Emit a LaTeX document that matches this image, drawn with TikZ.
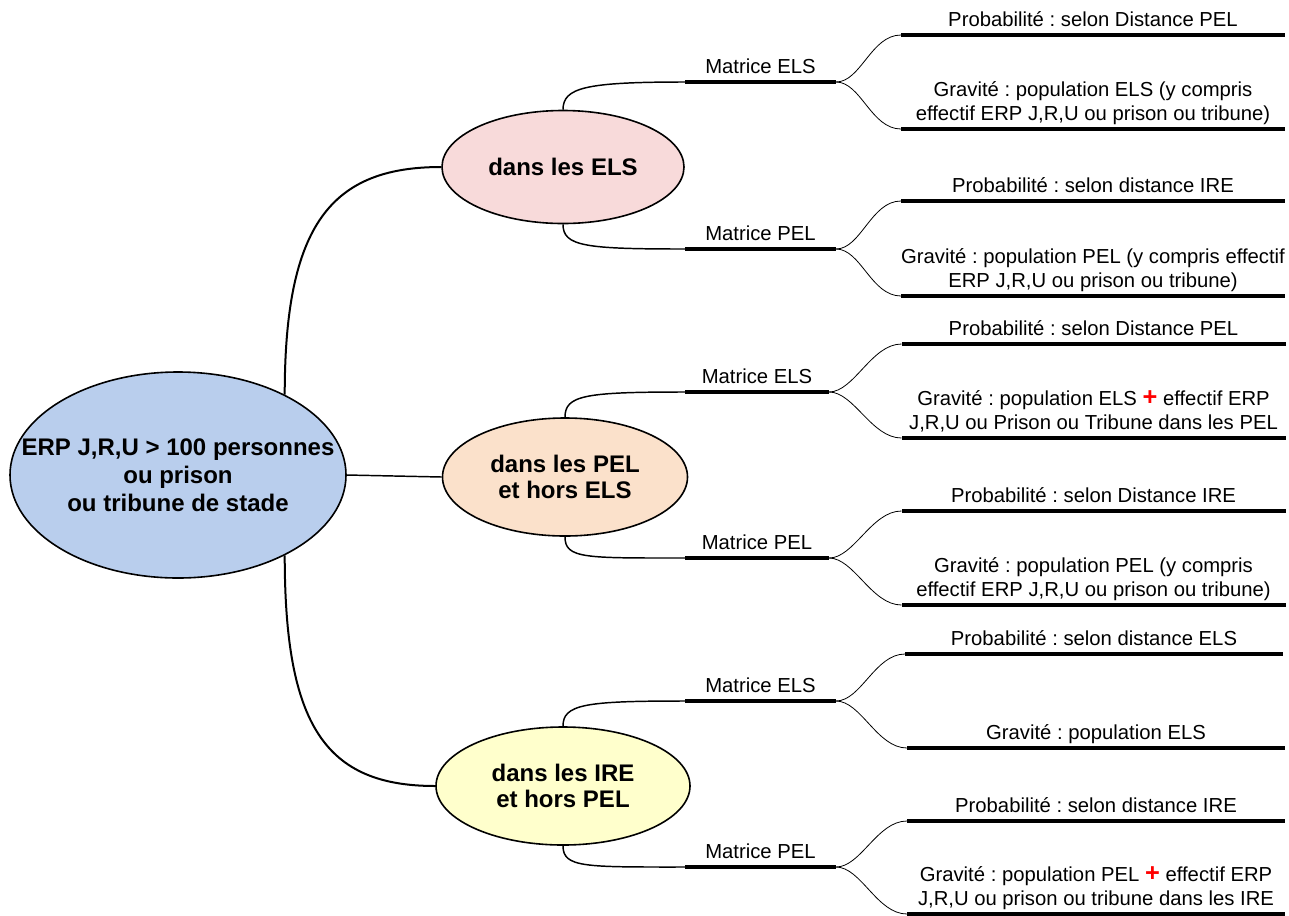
\documentclass[tikz,border=0pt]{standalone}
\usepackage{fontspec}
\setmainfont{Liberation Sans}
\usepackage{tikz}
\usetikzlibrary{shapes.geometric, positioning}
\usepackage{xcolor}
\definecolor{rootblue}{RGB}{185, 206, 237}
\definecolor{elspink}{RGB}{248, 218, 218}
\definecolor{pelpeach}{RGB}{251, 225, 203}
\definecolor{ireyellow}{RGB}{255, 255, 204}
\newcommand{\rplus}{\textcolor{red}{\fontsize{19}{18}\selectfont\textbf{+}}}
\frenchspacing

\begin{document}
\begin{tikzpicture}[
  x=0.75pt, y=-0.75pt,
  zone/.style={ellipse, draw=black, line width=1.2pt, align=center, inner sep=0pt, font=\fontsize{18}{20}\selectfont\bfseries},
  zonetxt/.style={align=center, inner sep=0pt, font=\fontsize{18}{21}\selectfont\bfseries},
  mbar/.style={rectangle, fill=black, inner sep=0pt, outer sep=0pt, minimum height=3.2pt, minimum width=113.25pt},
  lbar/.style={rectangle, fill=black, inner sep=0pt, outer sep=0pt, minimum height=3.2pt, minimum width=288pt},
  lbl/.style={inner xsep=0pt, inner ysep=1.5pt, text depth=3pt, align=center, font=\fontsize{15.2}{18}\selectfont},
  trunk/.style={line width=1.5pt},
  stem/.style={line width=1.1pt},
  twig/.style={line width=0.6pt}
]
\clip (0,0) rectangle (1289,915);

% root and zones
\node[zone, fill=rootblue, minimum width=252pt, minimum height=154.5pt] (erp) at (178,475) {};
\node[zonetxt] (erptxt) at (erp.center) {ERP J,R,U > 100 personnes\\ou prison\\ou tribune de stade};

\node[zone, fill=elspink, minimum width=181.5pt, minimum height=84.75pt] (els) at (563,167) {dans les ELS};
\node[zone, fill=pelpeach, minimum width=183.75pt, minimum height=88.5pt] (pel) at (565,477) {dans les PEL\\et hors ELS};
\node[zone, fill=ireyellow, minimum width=190.5pt, minimum height=88.5pt] (ire) at (563,786) {dans les IRE\\et hors PEL};

% matrices
\node[mbar] (els-m1) at (760.5,82) {};
\node[lbl, above=0pt of els-m1] (els-m1t) {Matrice ELS};
\node[mbar] (els-m2) at (760.5,249) {};
\node[lbl, above=0pt of els-m2] (els-m2t) {Matrice PEL};
\node[mbar, minimum width=108pt] (pel-m1) at (757,392) {};
\node[lbl, above=0pt of pel-m1] (pel-m1t) {Matrice ELS};
\node[mbar, minimum width=108pt] (pel-m2) at (757,558) {};
\node[lbl, above=0pt of pel-m2] (pel-m2t) {Matrice PEL};
\node[mbar] (ire-m1) at (760.5,701) {};
\node[lbl, above=0pt of ire-m1] (ire-m1t) {Matrice ELS};
\node[mbar] (ire-m2) at (760.5,867) {};
\node[lbl, above=0pt of ire-m2] (ire-m2t) {Matrice PEL};

% leaves
\node[lbar] (els-m1-p) at (1093,35) {};
\node[lbl, above=0pt of els-m1-p] (els-m1-pt) {Probabilité : selon Distance PEL};
\node[lbar] (els-m1-g) at (1093,129) {};
\node[lbl, above=0pt of els-m1-g] (els-m1-gt) {Gravité : population ELS (y compris\\effectif ERP J,R,U ou prison ou tribune)};
\node[lbar] (els-m2-p) at (1093,201) {};
\node[lbl, above=0pt of els-m2-p] (els-m2-pt) {Probabilité : selon distance IRE};
\node[lbar] (els-m2-g) at (1093,296) {};
\node[lbl, above=0pt of els-m2-g] (els-m2-gt) {Gravité : population PEL (y compris effectif\\ERP J,R,U ou prison ou tribune)};

\node[lbar] (pel-m1-p) at (1093.5,344) {};
\node[lbl, above=0pt of pel-m1-p] (pel-m1-pt) {Probabilité : selon Distance PEL};
\node[lbar] (pel-m1-g) at (1093.5,438) {};
\node[lbl, above=0pt of pel-m1-g] (pel-m1-gt) {Gravité : population ELS \rplus{} effectif ERP\\J,R,U ou Prison ou Tribune dans les PEL};
\node[lbar] (pel-m2-p) at (1093.5,511) {};
\node[lbl, above=0pt of pel-m2-p] (pel-m2-pt) {Probabilité : selon Distance IRE};
\node[lbar] (pel-m2-g) at (1093.5,605) {};
\node[lbl, above=0pt of pel-m2-g] (pel-m2-gt) {Gravité : population PEL (y compris\\effectif ERP J,R,U ou prison ou tribune)};

\node[lbar, minimum width=283.5pt] (ire-m1-p) at (1094,654) {};
\node[lbl, above=0pt of ire-m1-p] (ire-m1-pt) {Probabilité : selon distance ELS};
\node[lbar, minimum width=283.5pt] (ire-m1-g) at (1096,748) {};
\node[lbl, above=0pt of ire-m1-g] (ire-m1-gt) {Gravité : population ELS};
\node[lbar, minimum width=283.5pt] (ire-m2-p) at (1096,821) {};
\node[lbl, above=0pt of ire-m2-p] (ire-m2-pt) {Probabilité : selon distance IRE};
\node[lbar, minimum width=283.5pt] (ire-m2-g) at (1096,914) {};
\node[lbl, above=0pt of ire-m2-g] (ire-m2-gt) {Gravité : population PEL \rplus{} effectif ERP\\J,R,U ou prison ou tribune dans les IRE};

% connectors
\draw[trunk] (erp.37) .. controls +(0,-170) and +(-110,0) .. (els.west);
\draw[stem] (erp.east) -- (pel.west);
\draw[trunk] (erp.-37) .. controls +(0,170) and +(-110,0) .. (ire.west);

\draw[stem] (els.north) .. controls +(0,-22) and +(-100,0) .. (els-m1.west);
\draw[stem] (els.south) .. controls +(0,22) and +(-100,0) .. (els-m2.west);
\draw[stem] (pel.north) .. controls +(0,-22) and +(-100,0) .. (pel-m1.west);
\draw[stem] (pel.south) .. controls +(0,22) and +(-100,0) .. (pel-m2.west);
\draw[stem] (ire.north) .. controls +(0,-22) and +(-100,0) .. (ire-m1.west);
\draw[stem] (ire.south) .. controls +(0,22) and +(-100,0) .. (ire-m2.west);

\draw[twig] (els-m1.east) .. controls +(25,0) and +(-30,0) .. (els-m1-p.west);
\draw[twig] (els-m1.east) .. controls +(25,0) and +(-30,0) .. (els-m1-g.west);
\draw[twig] (els-m2.east) .. controls +(25,0) and +(-30,0) .. (els-m2-p.west);
\draw[twig] (els-m2.east) .. controls +(25,0) and +(-30,0) .. (els-m2-g.west);
\draw[twig] (pel-m1.east) .. controls +(25,0) and +(-30,0) .. (pel-m1-p.west);
\draw[twig] (pel-m1.east) .. controls +(25,0) and +(-30,0) .. (pel-m1-g.west);
\draw[twig] (pel-m2.east) .. controls +(25,0) and +(-30,0) .. (pel-m2-p.west);
\draw[twig] (pel-m2.east) .. controls +(25,0) and +(-30,0) .. (pel-m2-g.west);
\draw[twig] (ire-m1.east) .. controls +(25,0) and +(-30,0) .. (ire-m1-p.west);
\draw[twig] (ire-m1.east) .. controls +(25,0) and +(-30,0) .. (ire-m1-g.west);
\draw[twig] (ire-m2.east) .. controls +(25,0) and +(-30,0) .. (ire-m2-p.west);
\draw[twig] (ire-m2.east) .. controls +(25,0) and +(-30,0) .. (ire-m2-g.west);

\end{tikzpicture}
\end{document}
